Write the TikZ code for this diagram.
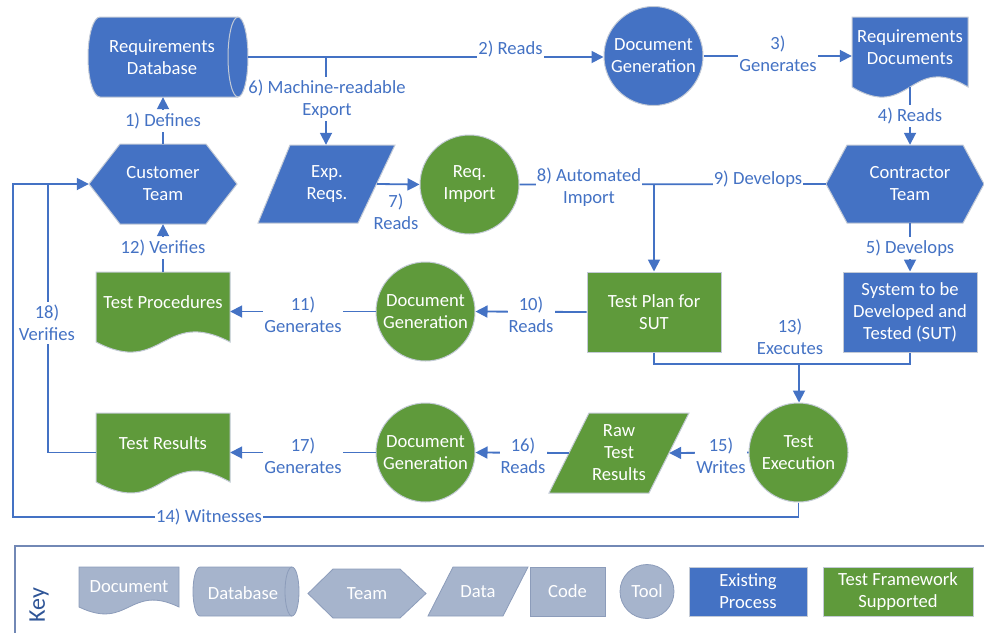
\documentclass[tikz,border=0pt]{standalone}
\usepackage{fontspec}
\setmainfont{Carlito}
\usetikzlibrary{arrows.meta}
\definecolor{cblue}{HTML}{4472C4}
\definecolor{cgreen}{HTML}{5F9A3B}
\definecolor{edgec}{HTML}{C3CAD6}
\definecolor{kfill}{HTML}{A6B4CC}
\definecolor{kedge}{HTML}{8C9CBA}
\definecolor{kbox}{HTML}{7288B5}
\definecolor{keytext}{HTML}{2F5597}
\tikzset{
  conn/.style={draw=cblue, line width=1.8pt},
  arr/.style={conn, -{Triangle[length=12pt,width=12pt]}},
  lbl/.style={text=cblue, fill=white, inner xsep=1pt, inner ysep=3pt, align=center},
  anchorbox/.style={draw=none, inner sep=0pt},
  wtxt/.style={text=white, align=center, inner sep=0pt},
  bshape/.style={fill=cblue, draw=edgec, line width=1pt},
  gshape/.style={fill=cgreen, draw=edgec, line width=1pt},
  kshape/.style={fill=kfill, draw=kedge, line width=0.8pt},
  tool/.style={circle, minimum size=99pt, inner sep=0pt, text=white, align=center},
  boxnode/.style={rectangle, inner sep=0pt, text=white, align=center},
}
\begin{document}
\begin{tikzpicture}[x=1pt,y=-1pt, every node/.style={font=\fontsize{18.6}{22}\selectfont}]
\useasboundingbox (0,0) rectangle (984,632);

% ---------- shapes drawn as paths ----------
% Requirements Database (cylinder)
\filldraw[bshape] (100,17) -- (238,17) arc[start angle=-90,end angle=90,x radius=10,y radius=40]
   -- (100,97) arc[start angle=90,end angle=270,x radius=12,y radius=40] -- cycle;
\draw[edgec, line width=1pt] (238,17) arc[start angle=-90,end angle=-270,x radius=10,y radius=40];
% Requirements Documents
\filldraw[bshape] (852,17) -- (968,17) -- (968,87) .. controls (910,52) and (910,122) .. (852,87) -- cycle;
% Customer Team hexagon
\filldraw[bshape] (89,184) -- (120,144) -- (206,144) -- (237,184) -- (206,224) -- (120,224) -- cycle;
% Contractor Team hexagon
\filldraw[bshape] (826,184) -- (847,145) -- (963,145) -- (984,184) -- (963,223) -- (847,223) -- cycle;
% Exp. Reqs. parallelogram
\filldraw[bshape] (290,145) -- (395,145) -- (358,223) -- (258,223) -- cycle;
% Test Procedures
\filldraw[gshape] (96,272) -- (230,272) -- (230,342) .. controls (163,307) and (163,377) .. (96,342) -- cycle;
% Test Results
\filldraw[gshape] (96,413) -- (230,413) -- (230,482) .. controls (163,444) and (163,520) .. (96,482) -- cycle;
% Raw Test Results parallelogram
\filldraw[gshape] (589,413) -- (689,413) -- (649,493) -- (549,493) -- cycle;

% ---------- nodes ----------
\node[anchorbox, minimum width=160pt, minimum height=80pt] (reqdb) at (168,57) {};
\node[wtxt] (reqdbT) at (162,57) {Requirements\\Database};
\node[tool, bshape] (docgen1) at (653.5,56) {Document\\Generation};
\node[anchorbox, minimum width=116pt, minimum height=70pt] (reqdocs) at (910,52) {};
\node[wtxt] (reqdocsT) at (910,47) {Requirements\\Documents};
\node[anchorbox, minimum width=148pt, minimum height=80pt, text=white, align=center] (cust) at (163,184) {Customer\\Team};
\node[anchorbox, minimum width=102pt, minimum height=78pt] (expreq) at (326,184) {};
\node[wtxt] (expreqT) at (327,184.5) {Exp.\\Reqs.};
\node[tool, gshape] (reqimp) at (469.5,184.5) {Req.\\Import};
\node[anchorbox, minimum width=158pt, minimum height=78pt] (contr) at (905,184) {};
\node[wtxt] (contrT) at (910,184) {Contractor\\Team};
\node[boxnode, bshape, minimum width=134pt, minimum height=80pt] (sut) at (910,312) {System to be\\Developed and\\Tested (SUT)};
\node[boxnode, gshape, minimum width=134pt, minimum height=80pt] (testplan) at (654,312) {Test Plan for\\SUT};
\node[tool, gshape] (docgen2) at (425.5,311.5) {Document\\Generation};
\node[anchorbox, minimum width=134pt, minimum height=70pt] (testproc) at (163,307) {};
\node[wtxt] (testprocT) at (163,302) {Test Procedures};
\node[tool, gshape] (testexec) at (798.5,452.5) {Test\\Execution};
\node[anchorbox, minimum width=100pt, minimum height=80pt, text=white, align=center] (raw) at (619,453) {Raw\\Test\\Results};
\node[tool, gshape] (docgen3) at (425.5,452.5) {Document\\Generation};
\node[anchorbox, minimum width=134pt, minimum height=69pt] (testres) at (163,447.5) {};
\node[wtxt] (testresT) at (163,443) {Test Results};

% ---------- connectors ----------
\draw[arr] (reqdb.east) -- (reqdb.east -| docgen1.west);
\draw[arr] (reqdb.east -| expreq.north) -- (expreq.north);
\draw[arr] (docgen1.east) -- (docgen1.east -| reqdocs.west);
\draw[arr] (reqdocs.south) -- (reqdocs.south |- contr.north);
\draw[arr] (sut.north |- contr.south) -- (sut.north);
\draw[arr] (cust.north) -- (cust.north |- reqdb.south);
\draw[arr] (expreq.east) -- (reqimp.west);
\draw[conn] (reqimp.east) -- (contr.west);
\draw[arr] (testplan.north |- reqimp.east) -- (testplan.north);
\draw[arr] (testplan.west) -- (docgen2.east);
\draw[arr] (docgen2.west) -- (docgen2.west -| testproc.east);
\draw[arr] (testproc.north) -- (cust.south);
\coordinate (j13) at (799,364);
\draw[conn] (testplan.south) |- (j13) -| (sut.south);
\draw[arr] (j13) -- (j13 |- testexec.north);
\draw[arr] (testexec.west) -- (raw.east);
\draw[arr] (raw.west) -- (docgen3.east);
\draw[arr] (docgen3.west) -- (docgen3.west -| testres.east);
\coordinate (w14) at (13,517);
\draw[arr] (testexec.south) |- (w14) |- (cust.west);
\coordinate (v18) at (48,184);
\draw[conn] (testres.west |- docgen3.west) -| (v18);

% ---------- connector labels ----------
\node[lbl] (l1) at (163,121) {1) Defines};
\node[lbl] (l2) at (510.5,49) {2) Reads};
\node[lbl] (l3) at (778,53.5) {3)\\Generates};
\node[lbl] (l4) at (910,116) {4) Reads};
\node[lbl] (l5) at (910,248) {5) Develops};
\node[lbl] (l6) at (327,99) {6) Machine-readable\\Export};
\node[lbl, fill=none] (l7) at (396,212) {7)\\Reads};
\node[lbl] (l8) at (589,187) {8) Automated\\Import};
\node[lbl] (l9) at (758,179) {9) Develops};
\node[lbl] (l10) at (531,315) {10)\\Reads};
\node[lbl] (l11) at (303,315) {11)\\Generates};
\node[lbl] (l12) at (163,248) {12) Verifies};
\node[lbl, fill=none] (l13) at (790,336.5) {13)\\Executes};
\node[lbl] (l14) at (209,517) {14) Witnesses};
\node[lbl] (l15) at (721,455.5) {15)\\Writes};
\node[lbl] (l16) at (523,455.5) {16)\\Reads};
\node[lbl] (l17) at (303,455.5) {17)\\Generates};
\node[lbl] (l18) at (47,323) {18)\\Verifies};

% ---------- key ----------
\draw[kbox, line width=1.5pt] (15,546) rectangle (1000,660);
\node[rotate=90, text=keytext, font=\fontsize{24}{28}\selectfont, inner sep=0pt] (keylbl) at (39,605) {Key};
\filldraw[kshape] (79,567) -- (179,567) -- (179,607) .. controls (129,583) and (129,631) .. (79,607) -- cycle;
\node[wtxt] (kdoc) at (129,587) {Document};
\filldraw[kshape] (200,567) -- (292,567) arc[start angle=-90,end angle=90,x radius=7,y radius=24.5]
   -- (200,616) arc[start angle=90,end angle=270,x radius=7,y radius=24.5] -- cycle;
\draw[kedge, line width=0.8pt] (292,567) arc[start angle=-90,end angle=-270,x radius=7,y radius=24.5];
\node[wtxt] (kdb) at (243,593) {Database};
\filldraw[kshape] (308,593.5) -- (333,569) -- (400,569) -- (426,593.5) -- (400,618) -- (333,618) -- cycle;
\node[wtxt] (kteam) at (367,594) {Team};
\filldraw[kshape] (453,567) -- (528,567) -- (503,616) -- (428,616) -- cycle;
\node[wtxt] (kdata) at (478,592) {Data};
\node[boxnode, kshape, minimum width=75pt, minimum height=49pt] (kcode) at (567.5,591.5) {Code};
\node[circle, kshape, minimum size=54pt, inner sep=0pt, text=white] (ktool) at (647,591.5) {Tool};
\node[boxnode, bshape, minimum width=118pt, minimum height=49pt] (kexist) at (748,591.5) {Existing\\Process};
\node[boxnode, gshape, minimum width=150pt, minimum height=49pt] (ktfs) at (898,591.5) {Test Framework\\Supported};
\end{tikzpicture}
\end{document}
